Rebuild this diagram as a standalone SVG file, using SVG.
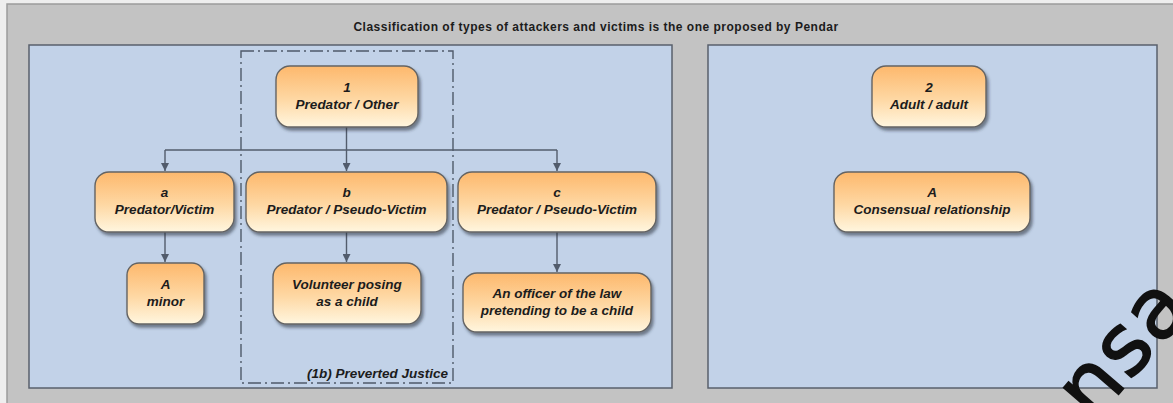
<svg xmlns="http://www.w3.org/2000/svg" width="1173" height="403" viewBox="0 0 1173 403">
  <defs>
    <linearGradient id="nodeFill" x1="0" y1="0" x2="0" y2="1">
      <stop offset="0" stop-color="#fdb86c"/>
      <stop offset="0.55" stop-color="#fed8a4"/>
      <stop offset="1" stop-color="#fff6df"/>
    </linearGradient>
    <filter id="shadow" x="-10%" y="-10%" width="125%" height="135%">
      <feDropShadow dx="2" dy="3" stdDeviation="1.6" flood-color="#2a2f3a" flood-opacity="0.55"/>
    </filter>
    <marker id="arrow" viewBox="0 0 8 8" refX="8" refY="4" markerWidth="8" markerHeight="8" markerUnits="userSpaceOnUse" orient="auto">
      <path d="M0,0 L8,4 L0,8 Z" fill="#525c6c"/>
    </marker>
    <clipPath id="sheet">
      <rect x="0" y="0" width="1173" height="403"/>
    </clipPath>
  </defs>
  <style>
    .frame { fill: #c3c3c3; stroke: #9c9c9c; stroke-width: 1.5; }
    .panel { fill: #c2d2e8; stroke: #59606c; stroke-width: 1.5; }
    .group { fill: none; stroke: #4f5a6a; stroke-width: 1.4; stroke-dasharray: 13 4 2 4; }
    .node rect { fill: url(#nodeFill); stroke: #646464; stroke-width: 1.4; filter: url(#shadow); }
    .node text, .label { font-family: "Liberation Sans", Arial, sans-serif; font-size: 13.5px; font-weight: bold; font-style: italic; fill: #1c1c1c; text-anchor: middle; }
    .title { font-family: "Liberation Sans", Arial, sans-serif; font-size: 12px; font-weight: bold; letter-spacing: 0.5px; fill: #1c1c1c; text-anchor: middle; }
    .edge { fill: none; stroke: #525c6c; stroke-width: 1.4; }
    .mark { font-family: "DejaVu Sans", "Liberation Sans", sans-serif; font-size: 84px; fill: #111; stroke: #111; stroke-width: 1.6; letter-spacing: 2px; }
  </style>

  <!-- background sheet and panels -->
  <rect x="0" y="0" width="1173" height="403" fill="#eeeeee"/>
  <rect class="frame" x="7" y="4" width="1170" height="405"/>
  <text class="title" x="596" y="31">Classification of types of attackers and victims is the one proposed by Pendar</text>
  <rect class="panel" x="29" y="45" width="643" height="343"/>
  <rect class="panel" x="708" y="45" width="449" height="343"/>

  <!-- Perverted Justice grouping -->
  <g id="group-1b">
    <rect class="group" x="241" y="51" width="212" height="332"/>
    <text class="label" x="448" y="378" style="text-anchor:end">(1b) Preverted Justice</text>
  </g>

  <!-- connectors -->
  <g id="connectors">
    <path class="edge" d="M346.5,127 V150"/>
    <path class="edge" d="M165,150 H557"/>
    <path class="edge" d="M165,150 V171" marker-end="url(#arrow)"/>
    <path class="edge" d="M346.5,150 V171" marker-end="url(#arrow)"/>
    <path class="edge" d="M557,150 V171" marker-end="url(#arrow)"/>
    <path class="edge" d="M165,232 V262" marker-end="url(#arrow)"/>
    <path class="edge" d="M346.5,232 V262" marker-end="url(#arrow)"/>
    <path class="edge" d="M557,232 V272" marker-end="url(#arrow)"/>
  </g>

  <!-- nodes -->
  <g id="n1" class="node">
    <rect x="276" y="66" width="142" height="61" rx="14"/>
    <text x="347" y="91.5">1</text>
    <text x="347" y="108.5">Predator / Other</text>
  </g>
  <g id="na" class="node">
    <rect x="95" y="172" width="139" height="60" rx="14"/>
    <text x="164.5" y="197">a</text>
    <text x="164.5" y="214">Predator/Victim</text>
  </g>
  <g id="nb" class="node">
    <rect x="246" y="172" width="201" height="60" rx="14"/>
    <text x="346.5" y="197">b</text>
    <text x="346.5" y="214">Predator / Pseudo-Victim</text>
  </g>
  <g id="nc" class="node">
    <rect x="458" y="172" width="198" height="60" rx="14"/>
    <text x="557" y="197">c</text>
    <text x="557" y="214">Predator / Pseudo-Victim</text>
  </g>
  <g id="nA-minor" class="node">
    <rect x="127" y="263" width="77" height="61" rx="12"/>
    <text x="165.5" y="288.5">A</text>
    <text x="165.5" y="305.5">minor</text>
  </g>
  <g id="n-volunteer" class="node">
    <rect x="273" y="263" width="148" height="61" rx="14"/>
    <text x="347" y="289">Volunteer posing</text>
    <text x="347" y="306">as a child</text>
  </g>
  <g id="n-officer" class="node">
    <rect x="463" y="273" width="188" height="59" rx="14"/>
    <text x="557" y="297.5">An officer of the law</text>
    <text x="557" y="314.5">pretending to be a child</text>
  </g>
  <g id="n2" class="node">
    <rect x="872" y="66" width="114" height="61" rx="14"/>
    <text x="929" y="91.5">2</text>
    <text x="929" y="108.5">Adult / adult</text>
  </g>
  <g id="nA-consensual" class="node">
    <rect x="834" y="172" width="196" height="60" rx="14"/>
    <text x="932" y="197">A</text>
    <text x="932" y="214">Consensual relationship</text>
  </g>

  <!-- overprinted mark in the lower right corner -->
  <g clip-path="url(#sheet)">
    <text class="mark" x="1058" y="464" transform="rotate(-49 1058 464)">ensa</text>
  </g>
</svg>
